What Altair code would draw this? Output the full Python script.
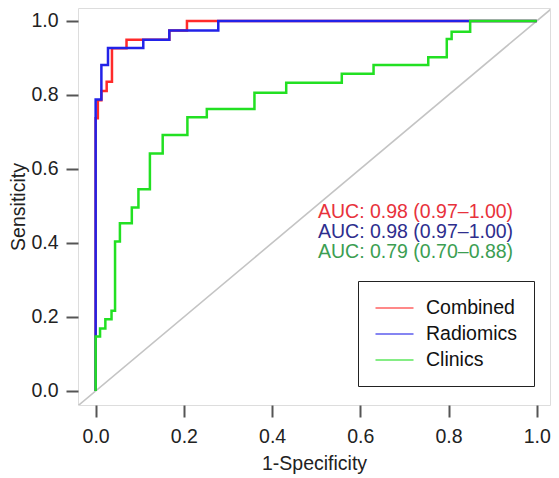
import altair as alt
import pandas as pd

# ROC corner points (1-specificity, sensitivity)
combined_fpr = [0, 0.005, 0.013, 0.025, 0.037, 0.070, 0.167, 0.207, 1.0]
combined_tpr = [0, 0.737, 0.786, 0.811, 0.836, 0.926, 0.949, 0.974, 1.0]

radiomics_fpr = [0, 0.013, 0.028, 0.108, 0.167, 0.278, 1.0]
radiomics_tpr = [0, 0.788, 0.881, 0.927, 0.949, 0.974, 1.0]

clinics_fpr = [0, 0.010, 0.022, 0.036, 0.044, 0.055, 0.082, 0.097, 0.123, 0.152,
               0.208, 0.252, 0.360, 0.432, 0.558, 0.630, 0.754, 0.796, 0.807, 0.849, 1.0]
clinics_tpr = [0, 0.147, 0.169, 0.194, 0.217, 0.404, 0.453, 0.496, 0.545, 0.642,
               0.692, 0.740, 0.762, 0.806, 0.833, 0.857, 0.881, 0.902, 0.951, 0.971, 1.0]

series_names = ["Combined", "Radiomics", "Clinics"]
series_colors = ["#ff2a2a", "#2222e8", "#22e022"]
auc_texts = ["AUC: 0.98 (0.97\u20131.00)", "AUC: 0.98 (0.97\u20131.00)", "AUC: 0.79 (0.70\u20130.88)"]
auc_colors = ["#e8323c", "#2e2e8e", "#3c9e52"]
tick_values = [0.0, 0.2, 0.4, 0.6, 0.8, 1.0]

FONT = "Liberation Sans"
FS = 19.5


def frame(name, fpr, tpr):
    return pd.DataFrame({"series": name, "fpr": fpr, "tpr": tpr, "idx": range(len(fpr))})


xscale = alt.Scale(domain=[-0.04, 1.03], nice=False, zero=False)
yscale = alt.Scale(domain=[-0.038, 1.035], nice=False, zero=False)
cscale = alt.Scale(domain=series_names, range=series_colors)

xaxis = alt.Axis(values=tick_values, format=".1f", title="1-Specificity", grid=False,
                 domain=False, tickSize=12, tickWidth=2, tickColor="#555555",
                 labelFontSize=FS, labelFont=FONT, labelColor="#222222", labelPadding=10,
                 titleFontSize=FS, titleFont=FONT, titleFontWeight="normal",
                 titleColor="#222222", titlePadding=9)
yaxis = alt.Axis(values=tick_values, format=".1f", title="Sensiticity", grid=False,
                 domain=False, tickSize=12, tickWidth=2, tickColor="#555555",
                 labelFontSize=FS, labelFont=FONT, labelColor="#222222", labelPadding=8,
                 titleFontSize=FS, titleFont=FONT, titleFontWeight="normal",
                 titleColor="#222222", titlePadding=2)

diag = alt.Chart(pd.DataFrame({"a": [0]})).mark_rule(
    color="#c4c4c4", strokeWidth=1.6, clip=True
).encode(
    x=alt.datum(-0.06, scale=xscale, axis=xaxis),
    y=alt.datum(-0.06, scale=yscale, axis=yaxis),
    x2=alt.datum(1.06),
    y2=alt.datum(1.06),
)

legend = alt.Legend(title=None, orient="none", legendX=280, legendY=273,
                    symbolType="M-1,0H3", symbolStrokeWidth=2.2, symbolSize=361,
                    symbolOpacity=0.55, labelFontSize=FS, labelFont=FONT,
                    labelColor="#111111", labelOffset=30, rowPadding=5, padding=16,
                    strokeColor="#222222")


def curve(name, fpr, tpr, show_legend):
    return alt.Chart(frame(name, fpr, tpr)).mark_line(
        interpolate="step-before", strokeWidth=2.5, clip=True
    ).encode(
        x=alt.X("fpr:Q", scale=xscale, axis=xaxis),
        y=alt.Y("tpr:Q", scale=yscale, axis=yaxis),
        color=alt.Color("series:N", scale=cscale, legend=legend if show_legend else None),
        order="idx:Q",
    )


layers = [diag,
          curve("Combined", combined_fpr, combined_tpr, True),
          curve("Radiomics", radiomics_fpr, radiomics_tpr, False),
          curve("Clinics", clinics_fpr, clinics_tpr, False)]

auc_y = [0.484, 0.430, 0.376]
for txt, col, yy in zip(auc_texts, auc_colors, auc_y):
    layers.append(
        alt.Chart(pd.DataFrame({"t": [txt]})).mark_text(
            align="left", baseline="middle", fontSize=FS, font=FONT, color=col
        ).encode(x=alt.datum(0.504), y=alt.datum(yy), text="t:N")
    )

chart = alt.layer(*layers).resolve_scale(color="shared").properties(
    width=472, height=397,
    autosize=alt.AutoSizeParams(type="none"),
    padding={"left": 70, "top": 0, "right": 1, "bottom": 70},
).configure_view(stroke="#9a9a9a", strokeWidth=2).configure(background="white")

chart.save("out.html", embed_options={"renderer": "svg", "actions": False})
